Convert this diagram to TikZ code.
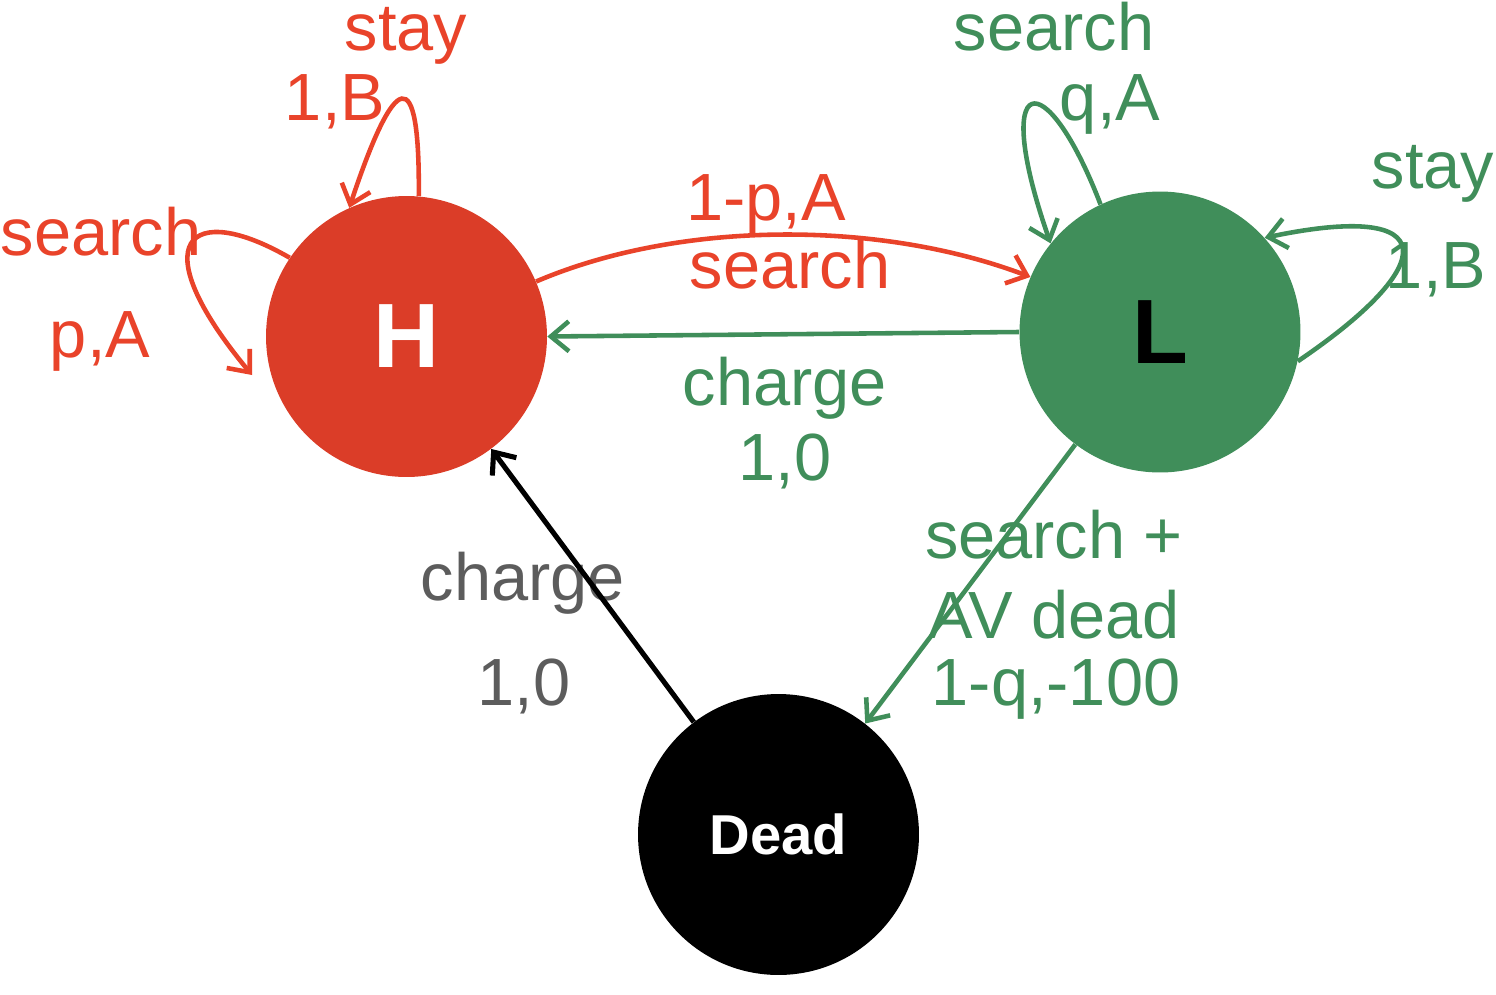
\documentclass[tikz,border=0pt]{standalone}
\usepackage{fontspec}
\setmainfont{Liberation Sans}
\usetikzlibrary{arrows.meta}
\definecolor{hred}{RGB}{219,61,40}
\definecolor{ered}{RGB}{233,67,42}
\definecolor{lgreen}{RGB}{64,142,90}
\definecolor{tgray}{RGB}{92,92,92}
\tikzset{
  state/.style={circle, inner sep=0pt, minimum size=5.62cm},
  lbl/.style={font=\fontsize{38}{44}\selectfont, inner sep=0pt, anchor=base},
  trans/.style={line width=2.6pt, -{Straight Barb[length=0.36cm,width=0.6cm]}}
}
\begin{document}
\begin{tikzpicture}[x=0.02cm, y=-0.02cm]
        \useasboundingbox (0,0) rectangle (1496,994);
        % States
        \node (H) at (406.5,336.5) [state, fill=hred, text=white, font=\fontsize{52}{52}\selectfont\bfseries] {H};
        \node (L) at (1160,332) [state, fill=lgreen, text=black, font=\fontsize{52}{52}\selectfont\bfseries] {L};
        \node (Dead) at (778.5,834.5) [state, fill=black, text=white, font=\fontsize{32}{32}\selectfont\bfseries] {Dead};
        \coordinate (Hloop) at (252,375);
        % Labels
        \node (stayH) at (406,50) [lbl, text=ered] {stay};
        \node (stayHp) at (335,120) [lbl, text=ered] {1,B};
        \node (searchH) at (101,255) [lbl, text=ered] {search};
        \node (searchHp) at (100,357) [lbl, text=ered] {p,A};
        \node (moveHp) at (766,220) [lbl, text=ered] {1-p,A};
        \node (moveH) at (790,288) [lbl, text=ered] {search};
        \node (chargeL) at (785,405) [lbl, text=lgreen] {charge};
        \node (chargeLp) at (785,480) [lbl, text=lgreen] {1,0};
        \node (searchL) at (1054,50) [lbl, text=lgreen] {search};
        \node (searchLp) at (1110,120) [lbl, text=lgreen] {q,A};
        \node (stayL) at (1433,188) [lbl, text=lgreen] {stay};
        \node (stayLp) at (1436,288) [lbl, text=lgreen] {1,B};
        \node (dieL) at (1054,558) [lbl, text=lgreen] {search +};
        \node (dieLa) at (1054,638) [lbl, text=lgreen] {AV dead};
        \node (dieLp) at (1056,705) [lbl, text=lgreen] {1-q,-100};
        \node (chargeD) at (523,600) [lbl, text=tgray] {charge};
        \node (chargeDp) at (524,705) [lbl, text=tgray] {1,0};
        % Transitions
        \draw[trans, ered] (H.85) .. controls (420,60) and (395,70) .. (H.114);
        \draw[trans, ered] (H.146) .. controls (190,200) and (140,240) .. (Hloop);
        \draw[trans, ered] (H.23) .. controls (680,220) and (880,220) .. (L.157);
        \draw[trans, lgreen] (L.180) -- (H.0);
        \draw[trans, lgreen] (L.115) .. controls (1045,60) and (990,70) .. (L.141);
        \draw[trans, lgreen] (L.-12) .. controls (1440,265) and (1445,200) .. (L.42);
        \draw[trans, lgreen] (L.233) -- (Dead.52);
        \draw[trans, black, line width=2.9pt] (Dead.127) -- (H.-53);
      \end{tikzpicture}
\end{document}
